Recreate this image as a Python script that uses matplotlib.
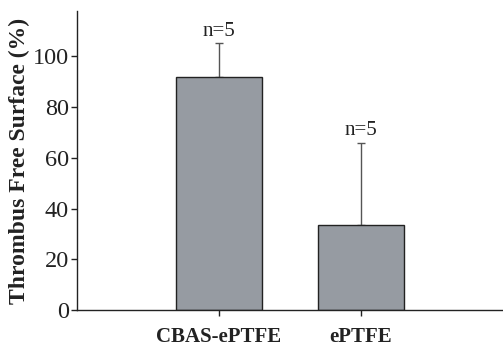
import numpy as np
from matplotlib import pyplot as plt

# Data
groups = ['CBAS-ePTFE', 'ePTFE']
means = [92.0, 33.5]
errs = [13.3, 32.4]
n_labels = ['n=5', 'n=5']

plt.rcParams['font.family'] = ['Liberation Serif', 'DejaVu Serif']

fig = plt.figure(figsize=(5.03, 3.5), dpi=100)
ax = fig.add_axes([0.153, 0.114, 0.847, 0.855])

x = np.arange(len(groups))
ax.bar(x, means, width=0.6, color='#969ba2', edgecolor='#222222', linewidth=1.0, zorder=2)
ax.errorbar(x, means, yerr=[np.zeros(len(errs)), errs], fmt='none',
            ecolor='#555555', elinewidth=1.0, capsize=3, capthick=1.0, zorder=1)

for xi, m, e, lab in zip(x, means, errs, n_labels):
    ax.text(xi, m + e + 1.0, lab, ha='center', va='bottom', fontsize=15, color='#222222')

ax.set_xlim(-1, 2)
ax.set_ylim(0, 118)
ax.set_yticks([0, 20, 40, 60, 80, 100])
ax.set_xticks(x)
ax.set_xticklabels(groups, fontsize=15, fontweight='bold')
ax.tick_params(axis='y', labelsize=17.5, direction='out', length=4, width=1, colors='#222222', pad=2)
ax.tick_params(axis='x', direction='out', length=4, width=1, colors='#222222', pad=8)
ax.set_ylabel('Thrombus Free Surface (%)', fontsize=17, fontweight='bold', color='#222222', labelpad=2)

for s in ['top', 'right']:
    ax.spines[s].set_visible(False)
for s in ['left', 'bottom']:
    ax.spines[s].set_linewidth(1.0)
    ax.spines[s].set_color('#222222')

fig.savefig('out.png', dpi=100)
